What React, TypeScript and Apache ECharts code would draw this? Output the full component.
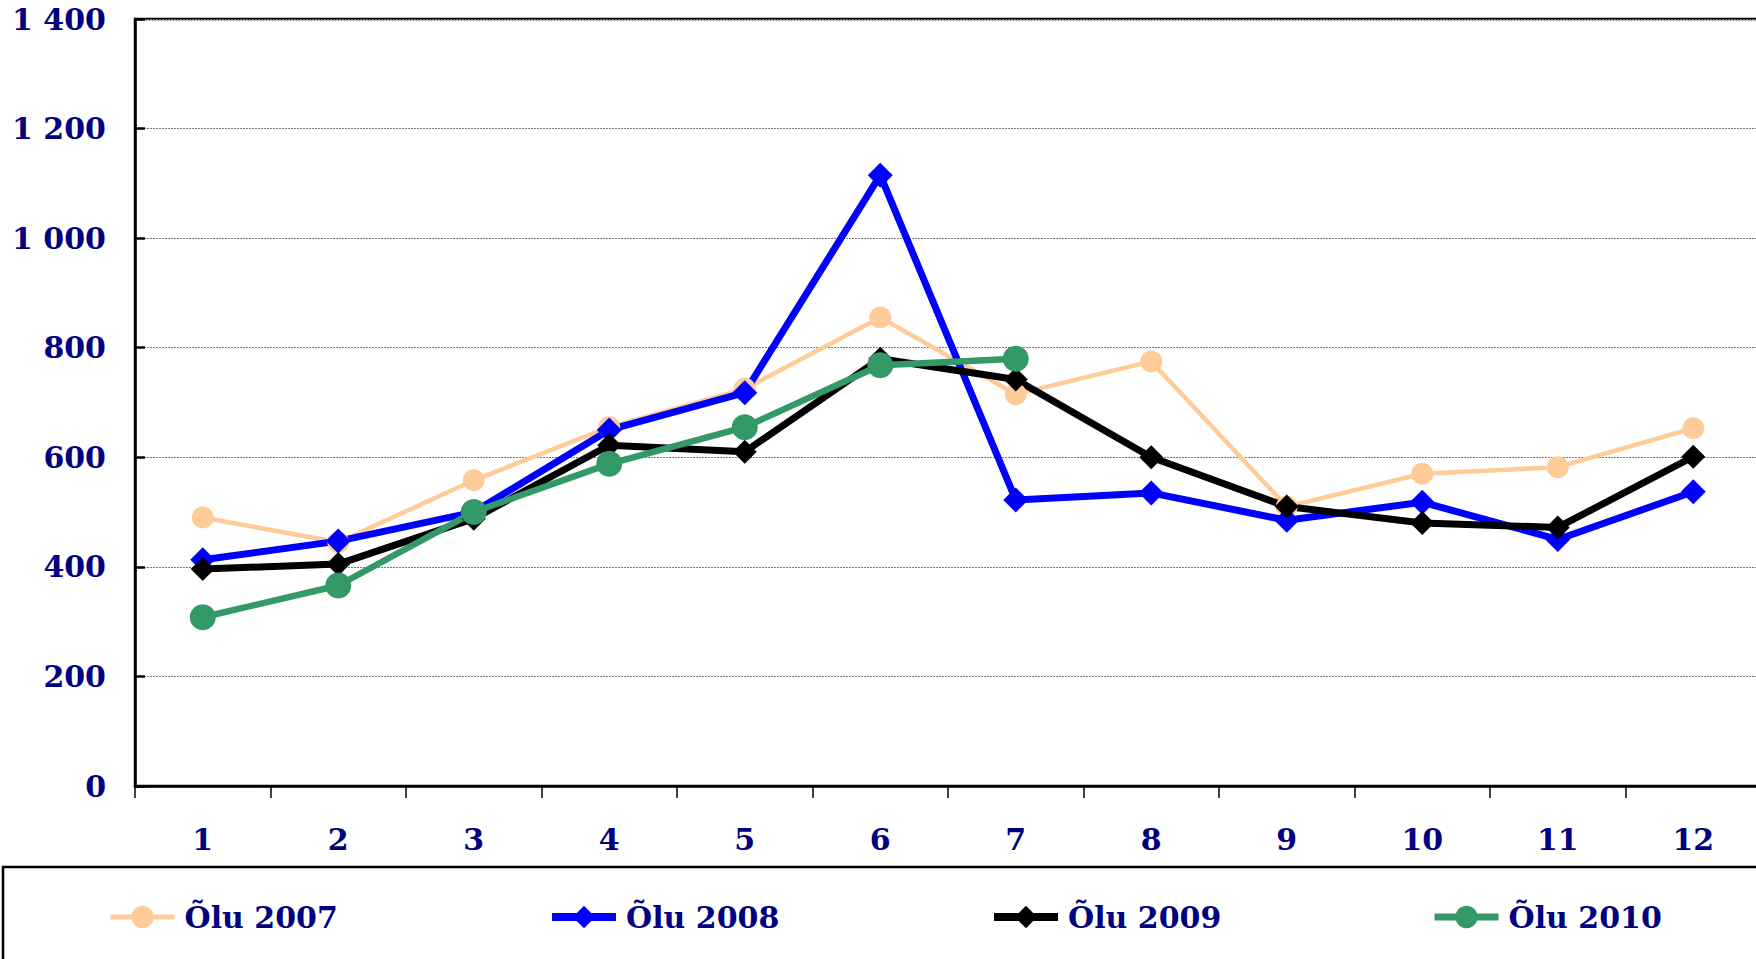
import React, { useEffect, useRef } from "react";
import * as echarts from "echarts";

const categories = ["1", "2", "3", "4", "5", "6", "7", "8", "9", "10", "11", "12"];
const seriesNames = ["Õlu 2007", "Õlu 2008", "Õlu 2009", "Õlu 2010"];
const olu2007 = [490, 445, 558, 655, 725, 855, 715, 775, 510, 570, 582, 653];
const olu2008 = [413, 447, 500, 650, 718, 1115, 522, 535, 485, 518, 450, 537];
const olu2009 = [396, 405, 488, 622, 610, 780, 742, 600, 510, 480, 472, 601];
const olu2010 = [308, 366, 500, 588, 655, 768, 780, null, null, null, null, null];
const yMin = 0;
const yMax = 1400;
const yStep = 200;

const FONT = "'DejaVu Serif', serif";
const NAVY = "#000080";

function fmt(v: number): string {
  if (v >= 1000) {
    return `${Math.floor(v / 1000)} ${String(v % 1000).padStart(3, "0")}`;
  }
  return String(v);
}

export default function App() {
  const ref = useRef<HTMLDivElement>(null);
  useEffect(() => {
    if (!ref.current) return;
    const chart = echarts.init(ref.current, null, { renderer: "svg" });
    const styles = [
      { color: "#FFCC99", symbol: "circle", size: 22, width: 4.5, lw: 5 },
      { color: "#0000FF", symbol: "diamond", size: 25, width: 7, lw: 8 },
      { color: "#000000", symbol: "diamond", size: 24, width: 7, lw: 8 },
      { color: "#339966", symbol: "circle", size: 26, width: 6.5, lw: 7 },
    ];
    const datas = [olu2007, olu2008, olu2009, olu2010];
    const legendLefts = [108, 548, 990, 1431];
    chart.setOption({
      animation: false,
      backgroundColor: "#fff",
      grid: {
        left: 135,
        top: 19,
        width: 1626,
        height: 767,
        show: true,
        borderColor: "#000",
        borderWidth: 2.5,
        backgroundColor: "transparent",
        containLabel: false,
        outerBoundsMode: "none",
      },
      legend: seriesNames.map((n, i) => ({
        data: [n],
        left: legendLefts[i],
        top: 902,
        padding: 0,
        itemWidth: 64,
        itemHeight: 28,
        selectedMode: false,
        lineStyle: { width: styles[i].lw, color: styles[i].color },
        textStyle: {
          fontFamily: FONT,
          fontWeight: "bold",
          fontSize: 30,
          color: NAVY,
          padding: [0, 0, 0, 5],
        },
      })),
      graphic: [
        {
          type: "rect",
          shape: { x: 3, y: 867, width: 1800, height: 200 },
          style: { fill: "none", stroke: "#000", lineWidth: 2.5 },
          silent: true,
        },
      ],
      xAxis: {
        type: "category",
        data: categories,
        boundaryGap: true,
        axisLine: { show: true, lineStyle: { color: "#000", width: 2.5 } },
        axisTick: { show: true, inside: false, length: 12, lineStyle: { color: "#000", width: 1.5 } },
        axisLabel: {
          margin: 38,
          fontFamily: FONT,
          fontWeight: "bold",
          fontSize: 30,
          color: NAVY,
        },
        splitLine: { show: false },
      },
      yAxis: {
        type: "value",
        min: yMin,
        max: yMax,
        interval: yStep,
        axisLine: { show: true, lineStyle: { color: "#000", width: 2.5 } },
        axisTick: { show: true, inside: true, length: 10, lineStyle: { color: "#000", width: 2.5 } },
        axisLabel: {
          margin: 29,
          fontFamily: FONT,
          fontWeight: "bold",
          fontSize: 30,
          color: NAVY,
          formatter: (v: number) => fmt(v),
        },
        splitLine: { show: true, lineStyle: { color: "#777", width: 1, type: [2, 1] } },
      },
      series: seriesNames.map((n, i) => ({
        name: n,
        type: "line",
        data: datas[i],
        symbol: styles[i].symbol,
        symbolSize: styles[i].size,
        showAllSymbol: true,
        connectNulls: false,
        lineStyle: { color: styles[i].color, width: styles[i].width },
        itemStyle: { color: styles[i].color, borderWidth: 0 },
        emphasis: { disabled: true },
      })),
    });
    return () => chart.dispose();
  }, []);
  return (
    <div
      ref={ref}
      style={{ position: "absolute", left: 0, top: 0, width: 1756, height: 959 }}
    />
  );
}
